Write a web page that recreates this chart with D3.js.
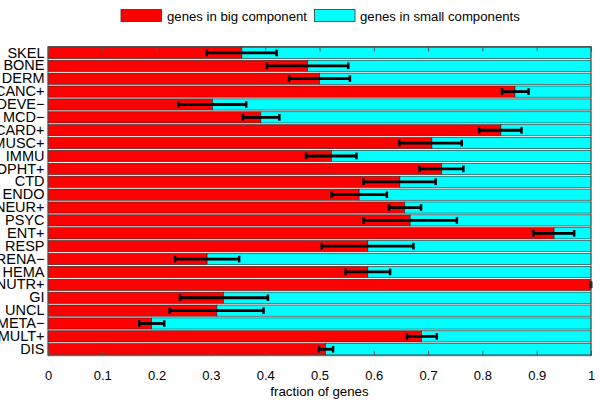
<!DOCTYPE html>
<html>
<head>
<meta charset="utf-8">
<script src="https://cdn.jsdelivr.net/npm/d3@7"></script>
<style>
  html, body { margin: 0; padding: 0; background: #fff; }
  svg { display: block; font-family: "Liberation Sans", Arial, Helvetica, sans-serif; }
</style>
</head>
<body>
<svg id="chart" width="600" height="403"></svg>
<script>
const categories = ["SKEL","BONE","DERM","CANC+","DEVE\u2212","MCD\u2212","CARD+","MUSC+","IMMU","OPHT+","CTD","ENDO","NEUR+","PSYC","ENT+","RESP","RENA\u2212","HEMA","NUTR+","GI","UNCL","META\u2212","MULT+","DIS"];
const bigFraction = [0.357,0.478,0.500,0.860,0.303,0.392,0.834,0.707,0.522,0.725,0.648,0.573,0.657,0.667,0.932,0.589,0.293,0.589,1.000,0.323,0.311,0.191,0.688,0.511];
const errLow  = [0.292,0.403,0.444,0.836,0.240,0.359,0.794,0.647,0.475,0.684,0.581,0.522,0.628,0.581,0.894,0.504,0.234,0.548,1.000,0.243,0.224,0.168,0.661,0.499];
const errHigh = [0.421,0.553,0.556,0.885,0.365,0.426,0.872,0.762,0.568,0.765,0.714,0.624,0.687,0.753,0.969,0.673,0.352,0.630,1.000,0.405,0.397,0.214,0.716,0.525];
const xTicks = [0,0.1,0.2,0.3,0.4,0.5,0.6,0.7,0.8,0.9,1];
const seriesNames = ["genes in big component","genes in small components"];
const seriesColors = ["#ff0000","#00ffff"];

const svg = d3.select("#chart");
const L = 48, R = 591, T = 46.5, B = 355.7;

const x = d3.scaleLinear().domain([0,1]).range([L,R]);
const y = d3.scaleBand().domain(categories).range([T,B]).paddingInner(0.13).paddingOuter(0.065);

const rows = categories.map((c,i)=>({c, big:bigFraction[i], lo:errLow[i], hi:errHigh[i]}));

const g = svg.append("g");
// stacked bars
g.selectAll("rect.big").data(rows).join("rect")
  .attr("x", x(0)).attr("y", d=>y(d.c))
  .attr("width", d=>x(d.big)-x(0)).attr("height", y.bandwidth())
  .attr("fill", seriesColors[0]).attr("stroke","#222").attr("stroke-width",0.6);
g.selectAll("rect.small").data(rows).join("rect")
  .attr("x", d=>x(d.big)).attr("y", d=>y(d.c))
  .attr("width", d=>x(1)-x(d.big)).attr("height", y.bandwidth())
  .attr("fill", seriesColors[1]).attr("stroke","#222").attr("stroke-width",0.6);

// error bars
const eb = g.append("g").attr("stroke","#000");
rows.forEach(d=>{
  const cy = y(d.c) + y.bandwidth()/2;
  eb.append("line").attr("x1",x(d.lo)).attr("x2",x(d.hi)).attr("y1",cy).attr("y2",cy).attr("stroke-width",2.8);
  [d.lo,d.hi].forEach(v=>{
    eb.append("line").attr("x1",x(v)).attr("x2",x(v)).attr("y1",cy-3.3).attr("y2",cy+3.3).attr("stroke-width",2.5);
  });
});

// axes frame
svg.append("rect").attr("x",L).attr("y",T).attr("width",R-L).attr("height",B-T)
  .attr("fill","none").attr("stroke","#555").attr("stroke-width",1);

const xAxis = svg.append("g").attr("transform",`translate(0,${B})`)
  .call(d3.axisBottom(x).tickValues(xTicks).tickSize(-5).tickPadding(15).tickFormat(d3.format("~g")));
xAxis.select(".domain").remove();
xAxis.selectAll(".tick line").attr("stroke","#555");
xAxis.selectAll("text").attr("font-size",13).attr("fill","#000").attr("font-family","Liberation Sans, Arial, sans-serif");

const xTop = svg.append("g").attr("transform",`translate(0,${T})`)
  .call(d3.axisTop(x).tickValues(xTicks).tickSize(-5).tickFormat(""));
xTop.select(".domain").remove();
xTop.selectAll(".tick line").attr("stroke","#555");

const yAxis = svg.append("g").attr("transform",`translate(${L},0)`)
  .call(d3.axisLeft(y).tickSize(0).tickPadding(3.5));
yAxis.select(".domain").remove();
yAxis.selectAll("text").attr("font-size",14.5).attr("fill","#000").attr("font-family","Liberation Sans, Arial, sans-serif");

svg.append("text").attr("x",(L+R)/2).attr("y",396).attr("text-anchor","middle")
  .attr("font-size",13.3).text("fraction of genes");

// legend
const legend = svg.append("g");
const legItems = [{x:121, tx:167},{x:314.5, tx:360}];
seriesNames.forEach((n,i)=>{
  legend.append("rect").attr("x",legItems[i].x).attr("y",9.5).attr("width",40.5).attr("height",12)
    .attr("fill",seriesColors[i]).attr("stroke","#333").attr("stroke-width",0.8);
  legend.append("text").attr("x",legItems[i].tx).attr("y",20.5).attr("font-size",13.2).text(n);
});
</script>
</body>
</html>
